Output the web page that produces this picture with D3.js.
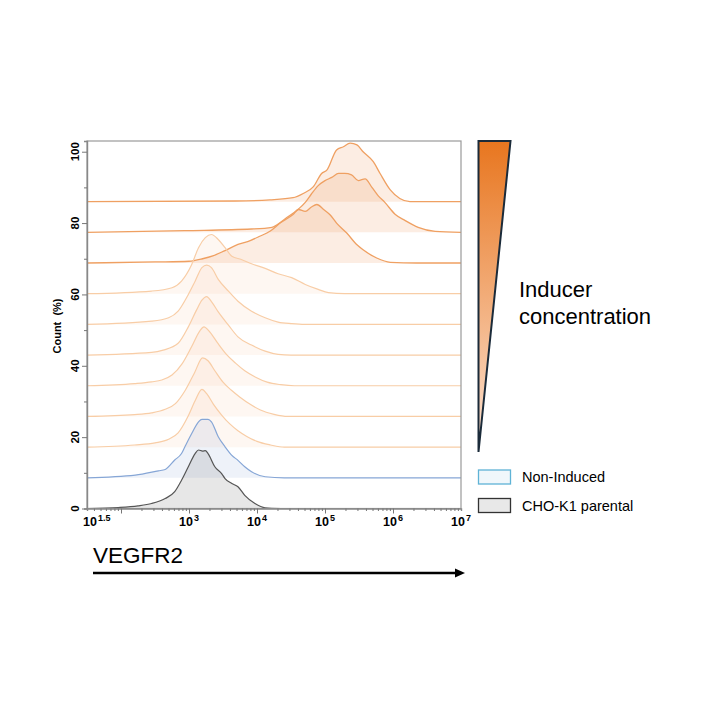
<!DOCTYPE html>
<html>
<head>
<meta charset="utf-8">
<script src="https://cdn.jsdelivr.net/npm/d3@7"></script>
<style>
  body { margin: 0; background: #fff; }
  text { font-family: Arial, "Liberation Sans", sans-serif; }
</style>
</head>
<body>
<div id="chart"></div>
<script>
// baseline offsets (Count %) of each stacked histogram, bottom to top
const offsets = [0, 8.6, 17.2, 25.8, 34.4, 43.0, 51.6, 60.2, 68.8, 77.4, 86.0];
const seriesNames = ["CHO-K1 parental", "Non-Induced", "Ind1", "Ind2", "Ind3", "Ind4", "Ind5", "Ind6", "Ind7", "Ind8", "Ind9"];

// histograms: [log10(VEGFR2), count above baseline]
const choK1 = [[1.5,0],[1.96,0.28],[2.25,0.75],[2.45,1.4],[2.65,2.8],[2.79,4.7],[2.89,7.9],[2.99,11.7],[3.09,15.4],[3.14,16.4],[3.2,16.1],[3.24,16.2],[3.28,15.4],[3.38,11.7],[3.48,9.8],[3.53,8.4],[3.63,7.0],[3.72,6.1],[3.82,3.7],[3.97,1.4],[4.12,0.2],[4.35,0]];
const nonInduced = [[1.5,0],[2.21,0.75],[2.55,1.96],[2.65,2.34],[2.79,5.0],[2.89,6.8],[2.94,8.7],[3.04,12.4],[3.14,15.7],[3.19,16.4],[3.28,16.4],[3.33,15.7],[3.43,11.5],[3.53,8.7],[3.63,6.3],[3.72,4.9],[3.82,3.1],[3.92,1.7],[4.12,0.3],[4.4,0],[7,0]];
const ind1 = [[1.5,0],[2.2,0.6],[2.5,1.2],[2.7,2.2],[2.84,4.0],[2.99,8.8],[3.09,13.0],[3.19,16.2],[3.26,15.0],[3.36,12.0],[3.48,9.0],[3.6,6.5],[3.72,4.6],[3.85,3.0],[4.0,1.6],[4.2,0.6],[4.4,0],[7,0]];
const ind2 = [[1.5,0],[2.2,0.5],[2.45,1.0],[2.65,2.0],[2.8,3.6],[2.95,7.5],[3.08,12.2],[3.2,16.4],[3.28,15.6],[3.38,12.8],[3.5,9.6],[3.62,7.4],[3.75,5.4],[3.9,3.4],[4.05,1.8],[4.25,0.6],[4.45,0],[7,0]];
const ind3 = [[1.5,0],[2.2,0.6],[2.45,1.1],[2.6,1.6],[2.75,3.0],[2.9,6.2],[3.04,11.0],[3.16,15.4],[3.22,16.5],[3.3,15.2],[3.42,12.0],[3.55,8.8],[3.68,6.4],[3.82,4.2],[3.98,2.4],[4.15,1.0],[4.35,0.3],[4.55,0],[7,0]];
const ind4 = [[1.5,0],[2.45,0.75],[2.62,1.4],[2.84,3.3],[2.99,7.9],[3.11,12.6],[3.19,15.4],[3.26,16.4],[3.33,15.0],[3.43,12.1],[3.58,8.4],[3.72,5.1],[3.92,2.8],[4.12,1.1],[4.31,0.2],[4.5,0],[7,0]];
const ind5 = [[1.5,0],[2.45,0.93],[2.7,1.87],[2.84,3.74],[2.99,8.4],[3.09,12.1],[3.19,15.9],[3.26,16.6],[3.33,15.9],[3.43,12.6],[3.58,9.3],[3.72,6.5],[3.92,3.7],[4.12,1.87],[4.31,0.65],[4.51,0.2],[4.7,0],[7,0]];
const ind6 = [[1.5,0],[2.45,0.75],[2.75,1.68],[2.89,3.55],[3.04,8.2],[3.14,12.9],[3.24,15.7],[3.33,16.6],[3.43,15.2],[3.53,12.9],[3.63,10.5],[3.77,9.6],[3.92,8.4],[4.12,7.1],[4.31,5.6],[4.51,4.5],[4.71,2.6],[4.9,1.2],[5.05,0.3],[5.29,0],[7,0]];
const ind7 = [[1.5,0],[2.5,0.3],[3.0,0.5],[3.2,1.2],[3.35,2.0],[3.53,3.5],[3.72,5.2],[3.9,6.3],[4.04,7.5],[4.19,8.9],[4.34,11.2],[4.53,13.6],[4.61,15.0],[4.71,14.5],[4.8,15.7],[4.88,16.4],[4.98,15.0],[5.07,13.6],[5.17,11.2],[5.32,8.4],[5.47,5.1],[5.56,3.7],[5.76,1.4],[5.96,0.2],[6.35,0],[7,0]];
const ind8 = [[1.5,0],[2.94,0.47],[3.92,0.93],[4.22,1.4],[4.31,2.34],[4.41,3.74],[4.61,6.54],[4.71,8.41],[4.8,10.75],[4.9,13.1],[5.0,14.5],[5.1,15.4],[5.2,16.5],[5.29,16.5],[5.39,16.1],[5.49,14.5],[5.59,15.0],[5.69,12.6],[5.78,10.3],[5.88,8.4],[6.03,5.1],[6.18,3.3],[6.37,1.4],[6.62,0.28],[7,0]];
const ind9 = [[1.5,0],[3.68,0.19],[4.19,0.5],[4.53,1.1],[4.68,2.3],[4.83,4.2],[4.95,7.9],[5.03,8.9],[5.17,14.5],[5.27,15.4],[5.37,16.4],[5.47,15.9],[5.56,14.0],[5.71,11.2],[5.81,7.9],[5.96,3.3],[6.1,0.9],[6.25,0],[7,0]];
const histograms = [choK1, nonInduced, ind1, ind2, ind3, ind4, ind5, ind6, ind7, ind8, ind9];

const xTickExps = ["1.5", "3", "4", "5", "6", "7"];
const yTicks = [0, 20, 40, 60, 80, 100];

const width = 720, height = 720;
const svg = d3.select("#chart").append("svg")
    .attr("width", width)
    .attr("height", height);

const x = d3.scaleLog().domain([Math.pow(10, 1.5), 1e7]).range([87, 461]);
const y = d3.scaleLinear().domain([0, 103]).range([508.5, 141]);

// gradient for the inducer triangle
const defs = svg.append("defs");
const grad = defs.append("linearGradient")
    .attr("id", "inducerGrad")
    .attr("x1", 0).attr("y1", 0).attr("x2", 0).attr("y2", 1);
grad.append("stop").attr("offset", "0%").attr("stop-color", "#E8761F");
grad.append("stop").attr("offset", "100%").attr("stop-color", "#FCE3D3");

function styleFor(i){
    if(i === 0) return {stroke: "#555555", fill: "rgba(110,110,110,0.17)", width: 1.2};
    if(i === 1) return {stroke: "#86A6D6", fill: "rgba(100,140,200,0.11)", width: 1.2};
    if(i >= 8) return {stroke: "#EFA062", fill: "rgba(238,144,80,0.16)", width: 1.3};
    return {stroke: "#F8CDA6", fill: "rgba(240,150,90,0.08)", width: 1.2};
}

// draw histograms from the top one down so the lower ones sit in front
const plot = svg.append("g");
for(let i = histograms.length - 1; i >= 0; i--){
    let base = offsets[i];
    let st = styleFor(i);

    let area = d3.area()
        .x(d => x(Math.pow(10, d[0])))
        .y0(y(base))
        .y1(d => y(base + d[1]))
        .curve(d3.curveMonotoneX);

    let line = d3.line()
        .x(d => x(Math.pow(10, d[0])))
        .y(d => y(base + d[1]))
        .curve(d3.curveMonotoneX);

    plot.append("path")
        .attr("d", area(histograms[i]))
        .attr("fill", st.fill);

    plot.append("path")
        .attr("d", line(histograms[i]))
        .attr("fill", "none")
        .attr("stroke", st.stroke)
        .attr("stroke-width", st.width)
        .attr("stroke-linejoin", "round");
}

// plot frame
svg.append("rect")
    .attr("x", 87).attr("y", 141)
    .attr("width", 461 - 87).attr("height", 508.5 - 141)
    .attr("fill", "none")
    .attr("stroke", "#9a9a9a")
    .attr("stroke-width", 1.2);

// y axis
const yAxis = svg.append("g")
    .attr("transform", "translate(87,0)")
    .call(d3.axisLeft(y).tickValues(d3.range(0, 101, 10)).tickSize(3).tickFormat(""));
yAxis.select(".domain").attr("stroke", "#888").attr("stroke-width", 1.4);
yAxis.selectAll(".tick line").attr("stroke", "#777")
    .attr("x2", d => yTicks.includes(d) ? -5 : -3);

svg.selectAll(".ylab")
    .data(yTicks)
    .enter().append("text")
    .attr("class", "ylab")
    .attr("transform", d => "translate(79," + y(d) + ") rotate(-90)")
    .attr("text-anchor", "middle")
    .style("font-size", "11.5px")
    .style("font-weight", "bold")
    .text(d => d);

svg.append("text")
    .attr("transform", "translate(61,326) rotate(-90)")
    .attr("text-anchor", "middle")
    .style("font-size", "11px")
    .style("font-weight", "bold")
    .attr("xml:space", "preserve")
    .text("Count  (%)");

// x axis with log minor ticks
const minor = [];
for(let e = 1; e < 7; e++){
    for(let m = 1; m < 10; m++){
        let v = m * Math.pow(10, e);
        if(v > Math.pow(10, 1.5) && v < 1e7) minor.push(v);
    }
}
const xAxis = svg.append("g")
    .attr("transform", "translate(0,508.5)")
    .call(d3.axisBottom(x).tickValues(minor).tickSize(2.5).tickFormat(""));
xAxis.select(".domain").attr("stroke", "#888").attr("stroke-width", 1.4);
xAxis.selectAll(".tick line").attr("stroke", "#777")
    .attr("y2", d => Math.abs(Math.log10(d) % 1) < 1e-9 ? 5 : 2.5);

const xl = svg.selectAll(".xlab")
    .data(xTickExps)
    .enter().append("text")
    .attr("class", "xlab")
    .attr("x", d => d === "1.5" ? 83 : x(Math.pow(10, +d)))
    .attr("y", 525.5)
    .attr("text-anchor", d => d === "1.5" ? "start" : "middle")
    .style("font-size", "12.5px")
    .style("font-weight", "bold");
xl.append("tspan").text("10");
xl.append("tspan")
    .attr("dy", -5)
    .attr("dx", 1)
    .style("font-size", "9px")
    .text(d => d);

// VEGFR2 label and arrow
svg.append("text")
    .attr("x", 93).attr("y", 563)
    .style("font-size", "22.5px")
    .text("VEGFR2");

svg.append("line")
    .attr("x1", 93).attr("y1", 573)
    .attr("x2", 457).attr("y2", 573)
    .attr("stroke", "#000")
    .attr("stroke-width", 2.4);
svg.append("path")
    .attr("d", "M455,568.5 L465,573 L455,577.5 Z")
    .attr("fill", "#000");

// inducer triangle
svg.append("path")
    .attr("d", "M478.5,141 L510.5,141 L478.5,452 Z")
    .attr("fill", "url(#inducerGrad)")
    .attr("stroke", "#1b2b3a")
    .attr("stroke-width", 2)
    .attr("stroke-linejoin", "miter");

svg.append("text")
    .attr("x", 519).attr("y", 297)
    .style("font-size", "22px")
    .text("Inducer");
svg.append("text")
    .attr("x", 519).attr("y", 324)
    .style("font-size", "22px")
    .text("concentration");

// legend
const legendItems = [
    {label: "Non-Induced", stroke: "#5FB3D6", fill: "#F0F7FB", y: 470},
    {label: "CHO-K1 parental", stroke: "#333333", fill: "#E8E8E8", y: 498.5}
];
const lg = svg.selectAll(".legend")
    .data(legendItems)
    .enter().append("g")
    .attr("class", "legend");
lg.append("rect")
    .attr("x", 478.5).attr("y", d => d.y)
    .attr("width", 32).attr("height", 14)
    .attr("fill", d => d.fill)
    .attr("stroke", d => d.stroke)
    .attr("stroke-width", 1.3);
lg.append("text")
    .attr("x", 522).attr("y", d => d.y + 12)
    .style("font-size", "14.5px")
    .text(d => d.label);
</script>
</body>
</html>
